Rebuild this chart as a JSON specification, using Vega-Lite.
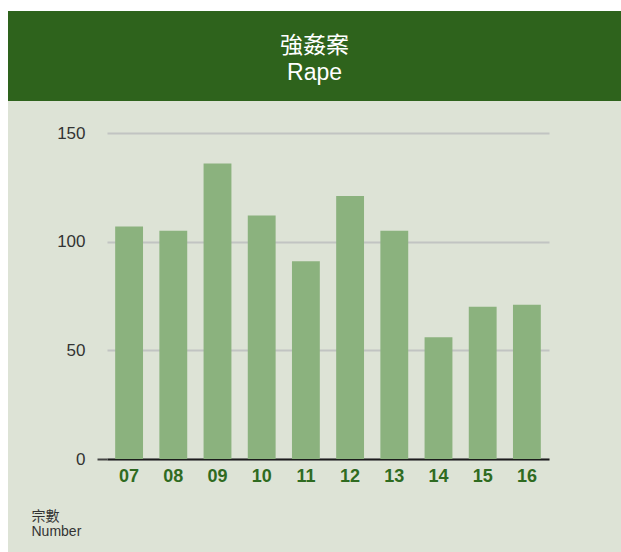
{
  "$schema": "https://vega.github.io/schema/vega-lite/v6.json",
  "background": "white",
  "padding": {"left": 8, "top": 11, "right": 0, "bottom": 0},
  "spacing": 0,
  "config": {"view": {"stroke": null}, "concat": {"spacing": 0}},
  "vconcat": [
    {
      "width": 613,
      "height": 90,
      "view": {"fill": "#2e631c", "stroke": null},
      "data": {"values": [{"title": ["強姦案", "Rape"]}]},
      "mark": {"type": "text", "color": "white", "font": "Liberation Sans, Noto Sans CJK TC, sans-serif", "fontSize": 23, "lineHeight": 27, "align": "center", "baseline": "middle", "dy": -10},
      "encoding": {"text": {"field": "title", "type": "nominal"}}
    },
    {
      "width": 613,
      "height": 451,
      "view": {"fill": "#dde3d6", "stroke": null},
      "data": {"values": [
        {"year": "07", "cases": 107},
        {"year": "08", "cases": 105},
        {"year": "09", "cases": 136},
        {"year": "10", "cases": 112},
        {"year": "11", "cases": 91},
        {"year": "12", "cases": 121},
        {"year": "13", "cases": 105},
        {"year": "14", "cases": 56},
        {"year": "15", "cases": 70},
        {"year": "16", "cases": 71}
      ]},
      "mark": {"type": "bar", "color": "#8bb27e"},
      "encoding": {
        "x": {
          "field": "year", "type": "ordinal",
          "scale": {"range": [99, 541], "paddingInner": 0.37, "paddingOuter": 0.185},
          "axis": {"title": null, "orient": "bottom", "offset": -93, "domainColor": "#1c1c1c", "domainWidth": 2, "ticks": false, "labelAngle": 0, "labelFont": "Liberation Sans Narrow, Arial Narrow, Liberation Sans, sans-serif", "labelFontSize": 18, "labelFontWeight": "bold", "labelColor": "#2f6b21", "labelPadding": 8, "grid": false}
        },
        "y": {
          "field": "cases", "type": "quantitative",
          "scale": {"domain": [0, 150], "range": [358, 32]},
          "axis": {
            "orient": "left", "offset": -99, "values": [0, 50, 100, 150],
            "grid": true, "gridColor": "#c1c4c2", "gridWidth": 2,
            "domain": false, "tickSize": 10, "tickWidth": 2,
            "tickColor": {"condition": {"test": "datum.value === 0", "value": "#444444"}, "value": "transparent"},
            "labelFont": "Liberation Sans Narrow, Arial Narrow, Liberation Sans, sans-serif", "labelFontSize": 17, "labelColor": "#333333", "labelPadding": 12,
            "title": ["宗數", "Number"], "titleAngle": 0, "titleAlign": "left", "titleBaseline": "alphabetic",
            "titleX": -76, "titleY": 419, "titleFont": "Liberation Sans, Noto Sans CJK TC, sans-serif", "titleFontSize": 14, "titleFontWeight": "normal", "titleColor": "#333333", "titleLineHeight": 15
          }
        }
      }
    }
  ]
}
